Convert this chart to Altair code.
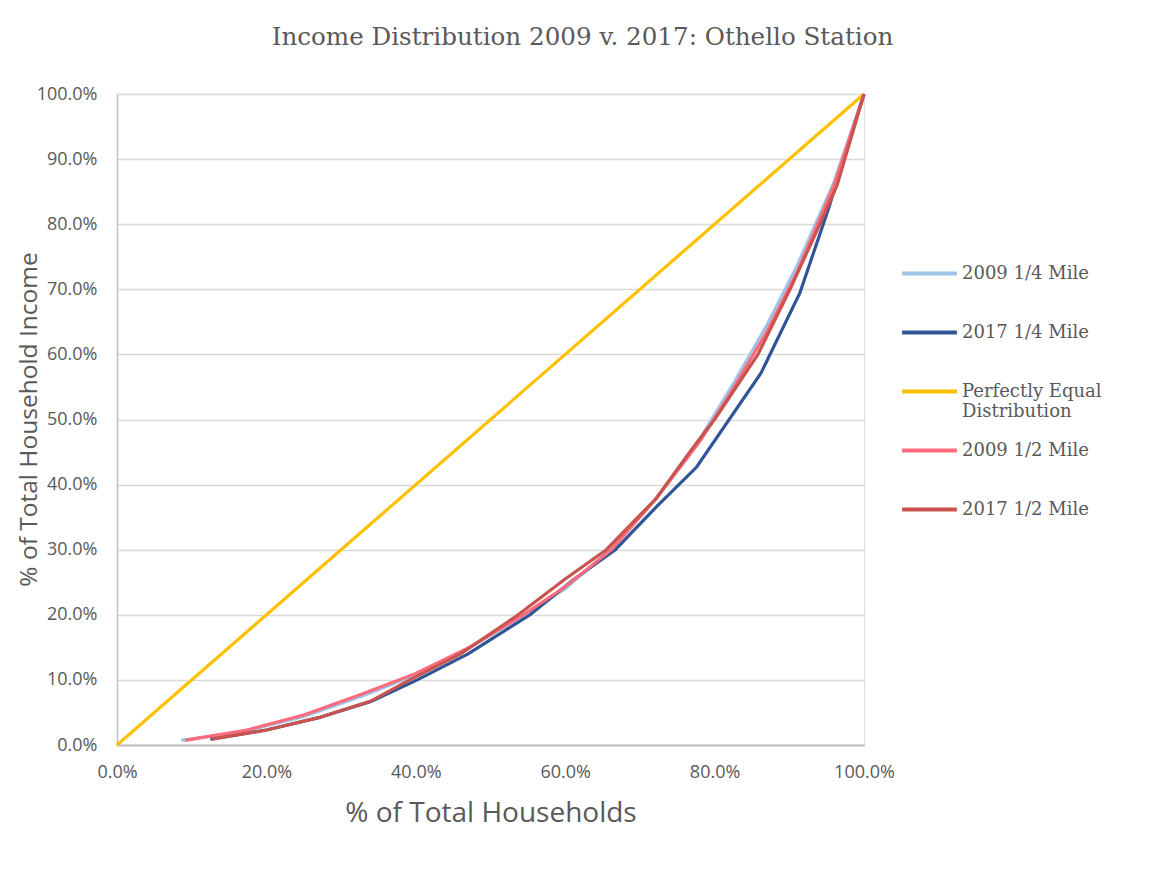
import altair as alt
import pandas as pd

series_names = ["2009 1/4 Mile", "2017 1/4 Mile", "Perfectly Equal Distribution",
                "2009 1/2 Mile", "2017 1/2 Mile"]
series_colors = ["#9dc3e6", "#2f5597", "#ffc000", "#ff6b7d", "#c9534f"]

# cumulative % of households (x) and % of income (y)
x_2009_q = [8.6, 17, 25, 33, 40, 47, 54, 60, 66, 72, 78, 82, 87, 91, 96, 100]
y_2009_q = [0.7, 2.1, 4.4, 7.6, 10.8, 14.8, 19.6, 24.0, 30.0, 37.6, 47.0, 54.5, 64.5, 73.5, 86.5, 100]

x_2017_q = [12.5, 20, 27, 34, 40.2, 47, 55.3, 61, 66.7, 72.3, 77.6, 86.2, 91.4, 95.2, 100]
y_2017_q = [0.9, 2.3, 4.2, 6.7, 10.0, 14.0, 20.0, 25.3, 30.0, 36.7, 42.7, 57.1, 69.4, 82.2, 100]

x_equal = [0, 100]
y_equal = [0, 100]

x_2009_h = [9.1, 17, 25, 33, 40, 47, 54.4, 60, 66.2, 72.2, 78, 82, 87, 91, 96, 100]
y_2009_h = [0.7, 2.2, 4.6, 7.9, 11.0, 14.9, 20.0, 24.3, 30.0, 37.9, 46.6, 53.8, 63.5, 72.5, 86.0, 100]

x_2017_h = [12.7, 20, 27, 33.9, 39.2, 46, 53.7, 60, 65.5, 72.2, 77, 80, 85.8, 90.1, 94.1, 96.4, 100]
y_2017_h = [0.9, 2.3, 4.2, 6.7, 10.0, 14.0, 20.0, 25.5, 30.0, 37.9, 45.5, 50.0, 60.0, 70.0, 80.0, 86.0, 100]

x_ticks = [0, 0.2, 0.4, 0.6, 0.8, 1.0]
y_ticks = [i / 10 for i in range(11)]

all_x = [x_2009_q, x_2017_q, x_equal, x_2009_h, x_2017_h]
all_y = [y_2009_q, y_2017_q, y_equal, y_2009_h, y_2017_h]

rows = []
for name, xs, ys in zip(series_names, all_x, all_y):
    for i, (xv, yv) in enumerate(zip(xs, ys)):
        rows.append({"series": name, "x": xv / 100, "y": yv / 100, "i": i})
df = pd.DataFrame(rows)

SERIF = "DejaVu Serif"
SANS = "Open Sans"
GREY = "#595959"

color = alt.Color(
    "series:N",
    scale=alt.Scale(domain=series_names, range=series_colors),
    legend=alt.Legend(
        orient="none", legendX=783, legendY=150, title=None,
        symbolType="stroke", symbolSize=3000, symbolStrokeWidth=4,
        labelFont=SERIF, labelFontSize=18, labelColor=GREY,
        rowPadding=0, gridAlign="all", padding=0, labelLimit=300, labelOffset=3,
        labelExpr="datum.label == 'Perfectly Equal Distribution' ? ['Perfectly Equal', 'Distribution'] : datum.label",
    ),
)

x_enc = alt.X(
    "x:Q",
    scale=alt.Scale(domain=[0, 1], nice=False),
    axis=alt.Axis(
        format=".1%", values=x_ticks, title="% of Total Households",
        grid=False, ticks=False, tickSize=0, labelPadding=18, labelFlush=False,
        labelFont=SANS, labelFontSize=18, labelColor=GREY,
        titleFont=SANS, titleFontSize=28, titleColor=GREY, titleFontWeight="normal",
        titleY=54, domainColor="#bfbfbf", domainWidth=2,
    ),
)
y_enc = alt.Y(
    "y:Q",
    scale=alt.Scale(domain=[0, 1], nice=False),
    axis=alt.Axis(
        format=".1%", values=y_ticks, title="% of Total Household Income",
        grid=True, gridColor="#d9d9d9", gridWidth=1.5, ticks=False, tickSize=0, labelPadding=20,
        labelFont=SANS, labelFontSize=18, labelColor=GREY,
        titleFont=SANS, titleFontSize=24.5, titleColor=GREY, titleFontWeight="normal",
        titleX=-76, titleY=325, domainColor="#bfbfbf", domainWidth=1.5,
    ),
)

layers = []
for name in series_names:
    layers.append(
        alt.Chart(df).transform_filter(alt.datum.series == name)
        .mark_line(strokeWidth=3.2)
        .encode(x=x_enc, y=y_enc, color=color, order="i:Q")
    )

chart = alt.layer(*layers).properties(
    width=747, height=651,
    title=alt.TitleParams(
        "Income Distribution 2009 v. 2017: Othello Station",
        font=SERIF, fontSize=24.6, color=GREY, fontWeight="normal",
        anchor="middle", frame="group", dx=92, offset=34,
    ),
    autosize=alt.AutoSizeParams(type="none"),
    padding={"left": 109, "top": 86, "right": 280, "bottom": 108},
).configure_view(stroke=None).configure(background="white")

chart.save("out.html", embed_options={"renderer": "svg", "actions": False})
